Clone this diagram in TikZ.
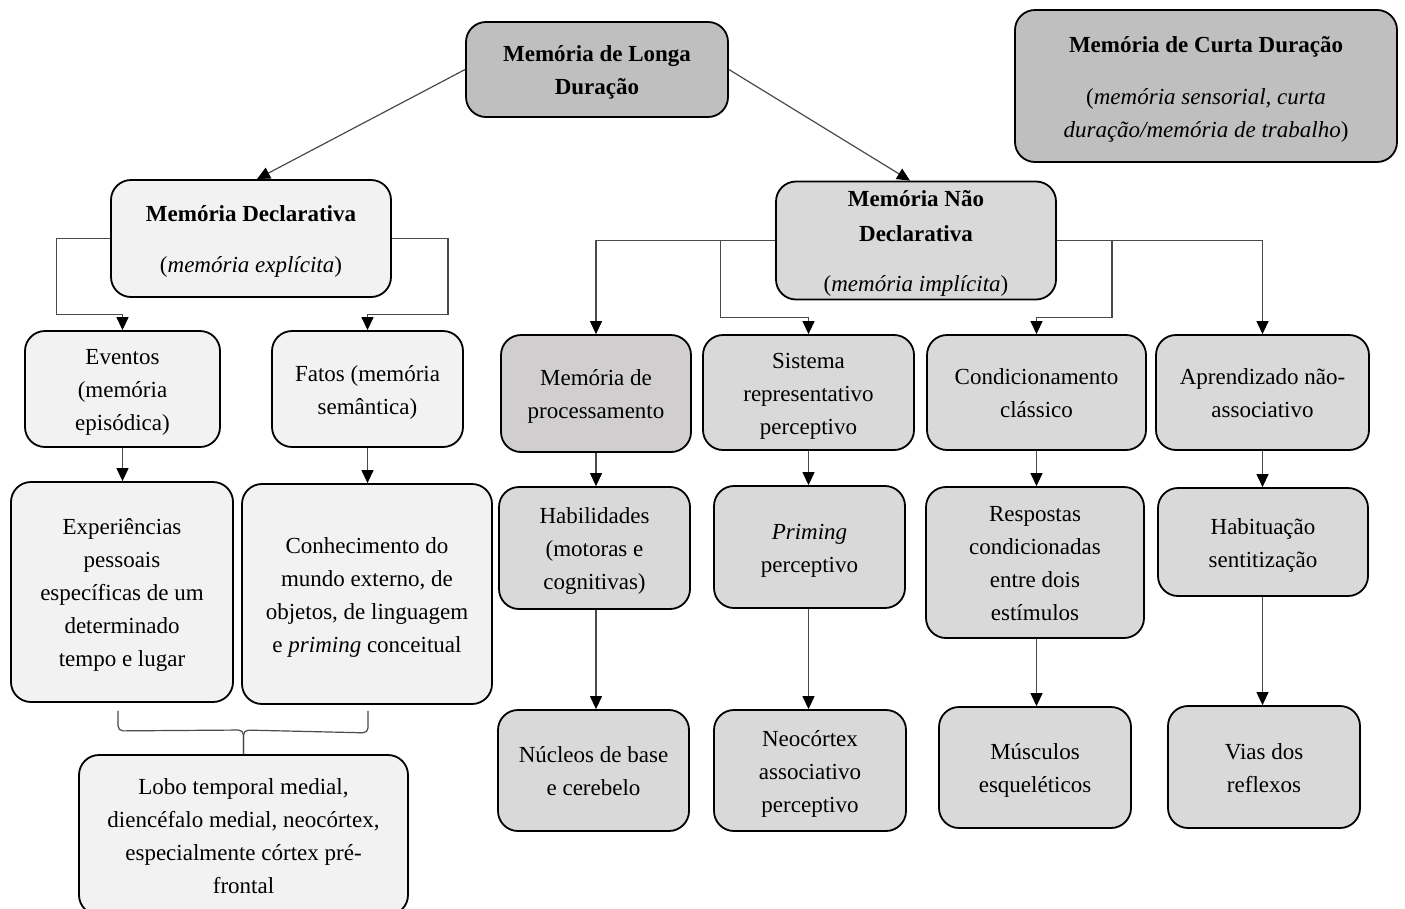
\documentclass[tikz,border=0pt]{standalone}
\usepackage{fontspec}
\setmainfont{Liberation Serif}
\usetikzlibrary{arrows.meta,calc}
\definecolor{fillA}{HTML}{BFBFBF}
\definecolor{fillB}{HTML}{F2F2F2}
\definecolor{fillC}{HTML}{D9D9D9}
\definecolor{fillD}{HTML}{D0CECE}
\definecolor{linegray}{HTML}{4A4A4A}
% box text: strutted rows, set a little below the geometric centre
\newcommand{\bt}[1]{\raisebox{-2pt}[\height][\depth]{\begin{tabular}{@{}c@{}}#1\end{tabular}}}
\begin{document}
\begin{tikzpicture}[x=1pt,y=-1pt,
  box/.style={draw=black, line width=1.8pt, rounded corners=20pt, align=center,
    inner sep=0pt, font=\fontsize{23}{33}\selectfont},
  boldbox/.style={box, font=\fontsize{23}{33}\selectfont\bfseries},
  conn/.style={draw=linegray, line width=1.2pt, -{Triangle[width=12pt,length=13pt,color=black]}},
  brace/.style={draw=linegray, line width=1.2pt, rounded corners=5pt},
]
\useasboundingbox (0,0) rectangle (1405,908);
\clip (0,0) rectangle (1405,908);

% top level
\node[boldbox, fill=fillA, minimum width=262, minimum height=95] (longa) at (597,69.5)
  {\bt{Memória de Longa\\Duração}};
\node[box, fill=fillA, minimum width=382, minimum height=152] (curta) at (1206,86)
  {\bt{\textbf{Memória de Curta Duração}\\[19pt](\textit{memória sensorial, curta}\\\textit{duração/memória de trabalho})}};

% second level
\node[box, fill=fillB, minimum width=280, minimum height=117] (decl) at (251,238.5)
  {\bt{\textbf{Memória Declarativa}\\[18pt](\textit{memória explícita})}};
\node[box, fill=fillC, minimum width=280, minimum height=117] (ndecl) at (916,240.5)
  {\bt{\textbf{Memória Não}\\[2pt]\textbf{Declarativa}\\[17pt](\textit{memória implícita})}};

% declarative branch
\node[box, fill=fillB, minimum width=195, minimum height=116] (eventos) at (122.5,389)
  {\bt{Eventos\\(memória\\episódica)}};
\node[box, fill=fillB, minimum width=191, minimum height=116] (fatos) at (367.5,389)
  {\bt{Fatos (memória\\semântica)}};
\node[box, fill=fillB, minimum width=222, minimum height=220] (exper) at (122,592)
  {\bt{Experiências\\pessoais\\específicas de um\\determinado\\tempo e lugar}};
\node[box, fill=fillB, minimum width=250, minimum height=220] (conhec) at (367,594)
  {\bt{Conhecimento do\\mundo externo, de\\objetos, de linguagem\\e \textit{priming} conceitual}};
\node[box, fill=fillB, minimum width=329, minimum height=160] (lobo) at (243.5,835)
  {\bt{Lobo temporal medial,\\diencéfalo medial, neocórtex,\\especialmente córtex pré-\\frontal}};

% non-declarative branch
\node[box, fill=fillD, minimum width=190, minimum height=117] (proc) at (596,393.5)
  {\bt{Memória de\\processamento}};
\node[box, fill=fillC, minimum width=211, minimum height=115] (sist) at (808.5,392.5)
  {\bt{Sistema\\representativo\\perceptivo}};
\node[box, fill=fillC, minimum width=219, minimum height=115] (cond) at (1036.5,392.5)
  {\bt{Condicionamento\\clássico}};
\node[box, fill=fillC, minimum width=213, minimum height=115] (aprend) at (1262.5,392.5)
  {\bt{Aprendizado não-\\associativo}};

\node[box, fill=fillC, minimum width=191, minimum height=122] (habil) at (594.5,548)
  {\bt{Habilidades\\(motoras e\\cognitivas)}};
\node[box, fill=fillC, minimum width=191, minimum height=122] (priming) at (809.5,547)
  {\bt{\textit{Priming}\\perceptivo}};
\node[box, fill=fillC, minimum width=218, minimum height=151] (resp) at (1035,562.5)
  {\bt{Respostas\\condicionadas\\entre dois\\estímulos}};
\node[box, fill=fillC, minimum width=210, minimum height=108] (habit) at (1263,542)
  {\bt{Habituação\\sentitização}};

\node[box, fill=fillC, minimum width=191, minimum height=121] (nucleos) at (593.5,770.5)
  {\bt{Núcleos de base\\e cerebelo}};
\node[box, fill=fillC, minimum width=192, minimum height=121] (neoc) at (810,770.5)
  {\bt{Neocórtex\\associativo\\perceptivo}};
\node[box, fill=fillC, minimum width=192, minimum height=121] (musc) at (1035,767.5)
  {\bt{Músculos\\esqueléticos}};
\node[box, fill=fillC, minimum width=192, minimum height=122] (vias) at (1264,767)
  {\bt{Vias dos\\reflexos}};

% connectors from the top node
\draw[conn] (longa.west) -- ([xshift=6pt]decl.north);
\draw[conn] (longa.east) -- ([xshift=-6pt]ndecl.north);

% declarative split
\draw[conn] (decl.west) -- ++(-54,0) |- ($(eventos.north)+(0,-16)$) -- (eventos.north);
\draw[conn] (decl.east) -- ++(56,0) |- ($(fatos.north)+(0,-16)$) -- (fatos.north);

% non-declarative split
\coordinate (jl) at ($(ndecl.west)+(-55,0)$);
\coordinate (jr) at ($(ndecl.east)+(55,0)$);
\draw[conn] (ndecl.west) -| (proc.north);
\draw[conn] (jl) |- ($(sist.north)+(0,-17)$) -- (sist.north);
\draw[conn] (ndecl.east) -| (aprend.north);
\draw[conn] (jr) |- ($(cond.north)+(0,-17)$) -- (cond.north);

% vertical chains
\draw[conn] (eventos.south) -- (eventos.south |- exper.north);
\draw[conn] (fatos.south) -- (fatos.south |- conhec.north);
\draw[conn] (proc.south) -- (proc.south |- habil.north);
\draw[conn] (proc.south |- habil.south) -- (proc.south |- nucleos.north);
\draw[conn] (sist.south) -- (sist.south |- priming.north);
\draw[conn] (sist.south |- priming.south) -- (sist.south |- neoc.north);
\draw[conn] (cond.south) -- (cond.south |- resp.north);
\draw[conn] (cond.south |- resp.south) -- (cond.south |- musc.north);
\draw[conn] (aprend.south) -- (aprend.south |- habit.north);
\draw[conn] (aprend.south |- habit.south) -- (aprend.south |- vias.north);

% bracket joining the two declarative boxes to the brain regions
\coordinate (bl) at ($(exper.south)+(-4,8)$);
\coordinate (br) at ($(conhec.south)+(1,6)$);
\draw[brace] (bl) -- ++(0,20) -- (lobo.north |- 0,730) -- (lobo.north);
\draw[brace] (br) -- ++(0,22) -- (lobo.north |- 0,730) -- (lobo.north);
\end{tikzpicture}
\end{document}
